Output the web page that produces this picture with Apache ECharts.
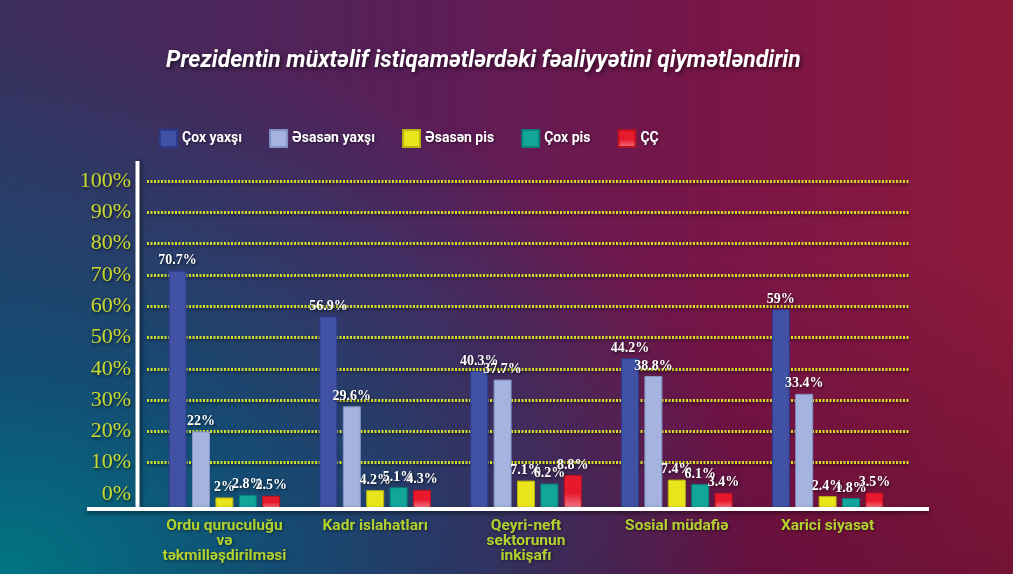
<!DOCTYPE html>
<html>
<head>
<meta charset="utf-8">
<script src="https://cdn.jsdelivr.net/npm/echarts@6/dist/echarts.min.js"></script>
<style>
  html, body { margin: 0; padding: 0; }
  #chart {
    width: 1013px;
    height: 574px;
    background:
      radial-gradient(ellipse 75% 95% at 0% 100%, rgba(0,118,132,1) 0%, rgba(12,82,120,0.85) 38%, rgba(25,55,105,0) 100%),
      linear-gradient(180deg, rgba(0,0,0,0) 45%, rgba(45,0,40,0.28) 100%),
      linear-gradient(90deg, #3b2e5c 0%, #5b1d58 42%, #7a1547 72%, #8e1a3a 100%);
  }
</style>
</head>
<body>
<div id="chart"></div>
<script>
  // kateqoriyalar
  var categories = ['Ordu quruculuğu\nvə\ntəkmilləşdirilməsi', 'Kadr islahatları', 'Qeyri-neft\nsektorunun\ninkişafı', 'Sosial müdafiə', 'Xarici siyasət'];
  var seriesNames = ['Çox yaxşı', 'Əsasən yaxşı', 'Əsasən pis', 'Çox pis', 'ÇÇ'];
  var coxYaxsi = [70.7, 56.9, 40.3, 44.2, 59];
  var esasenYaxsi = [22, 29.6, 37.7, 38.8, 33.4];
  var esasenPis = [2, 4.2, 7.1, 7.4, 2.4];
  var coxPis = [2.8, 5.1, 6.2, 6.1, 1.8];
  var cc = [2.5, 4.3, 8.8, 3.4, 3.5];

  var chart = echarts.init(document.getElementById('chart'));

  var labelStyle = {
    show: true,
    position: 'top',
    distance: 3,
    formatter: '{c}%',
    color: '#fff',
    fontFamily: 'Liberation Serif',
    fontWeight: 'bold',
    fontSize: 14,
    textShadowColor: 'rgba(0,0,0,0.7)',
    textShadowBlur: 3,
    textShadowOffsetX: 1,
    textShadowOffsetY: 1
  };

  function makeBar (name, data, color, border) {
    return {
      name: name,
      type: 'bar',
      xAxisIndex: 0,
      yAxisIndex: 0,
      barWidth: 18,
      barGap: '30%',
      data: data,
      z: 3,
      itemStyle: {
        color: color,
        borderColor: border,
        borderWidth: 1
      },
      label: labelStyle
    }
  }

  var redFill = new echarts.graphic.LinearGradient(0, 0, 0, 1, [
    {offset: 0, color: '#e8192c'},
    {offset: 0.55, color: '#e8192c'},
    {offset: 1, color: '#f27a8a'}
  ]);

  chart.setOption({
    title: {
      text: 'Prezidentin müxtəlif istiqamətlərdəki fəaliyyətini qiymətləndirin',
      left: 161,
      top: 45,
      textStyle: {
        color: '#fff',
        fontFamily: 'Roboto',
        fontStyle: 'italic',
        fontWeight: 'bold',
        fontSize: 23,
        textShadowColor: 'rgba(0,0,0,0.6)',
        textShadowBlur: 4,
        textShadowOffsetX: 2,
        textShadowOffsetY: 2
      }
    },
    legend: {
      left: 154,
      top: 124,
      icon: 'rect',
      itemWidth: 17,
      itemHeight: 17,
      itemGap: 27,
      data: seriesNames,
      textStyle: {
        color: '#fff',
        fontFamily: 'Roboto',
        fontWeight: 'bold',
        fontSize: 14,
        textShadowColor: 'rgba(0,0,0,0.5)',
        textShadowBlur: 3,
        textShadowOffsetX: 1,
        textShadowOffsetY: 1
      }
    },
    grid: [
      {left: 149, right: 110, top: 174, bottom: 66},   // bars
      {left: 147, right: 104, top: 181, bottom: 80}    // scale + dotted lines
    ],
    xAxis: [
      {
        type: 'category',
        gridIndex: 0,
        data: categories,
        axisLine: {show: false},
        axisTick: {show: false},
        axisLabel: {
          margin: 11,
          color: '#b2d12e',
          fontFamily: 'Roboto',
          fontWeight: 'bold',
          fontSize: 15.5,
          lineHeight: 15,
          interval: 0,
          textShadowColor: 'rgba(0,0,0,0.5)',
          textShadowBlur: 3,
          textShadowOffsetX: 1,
          textShadowOffsetY: 1
        }
      },
      {type: 'value', gridIndex: 1, show: false}
    ],
    yAxis: [
      {type: 'value', gridIndex: 0, min: -1.2, max: 100, startValue: -1.2, show: false, splitLine: {show: false}},
      {
        type: 'value',
        gridIndex: 1,
        min: 0,
        max: 100,
        interval: 10,
        axisLine: {show: false},
        axisTick: {show: false},
        axisLabel: {
          margin: 16,
          formatter: '{value}%',
          color: '#cbd92c',
          fontFamily: 'Liberation Serif',
          fontSize: 22,
          padding: [0, 0, 9, 0],
          textShadowColor: 'rgba(0,0,0,0.55)',
          textShadowBlur: 3,
          textShadowOffsetX: 1,
          textShadowOffsetY: 2
        },
        splitLine: {
          show: true,
          showMinLine: false,
          lineStyle: {
            color: '#d2de2a',
            width: 3,
            type: [2, 1.5],
            shadowColor: 'rgba(0,0,0,0.45)',
            shadowBlur: 3,
            shadowOffsetY: 2
          }
        }
      }
    ],
    graphic: [
      {
        type: 'line',
        z: 10,
        shape: {x1: 137.5, y1: 161, x2: 137.5, y2: 508},
        style: {stroke: '#fff', lineWidth: 4, shadowColor: 'rgba(0,0,0,0.5)', shadowBlur: 4, shadowOffsetX: 2}
      },
      {
        type: 'line',
        z: 10,
        shape: {x1: 87, y1: 509, x2: 929, y2: 509},
        style: {stroke: '#fff', lineWidth: 4, shadowColor: 'rgba(0,0,0,0.5)', shadowBlur: 4, shadowOffsetY: 2}
      }
    ],
    series: [
      makeBar(seriesNames[0], coxYaxsi, '#4152a4', '#2c3a8c'),
      makeBar(seriesNames[1], esasenYaxsi, '#a4b4de', '#8393c6'),
      makeBar(seriesNames[2], esasenPis, '#e9e51a', '#b8b410'),
      makeBar(seriesNames[3], coxPis, '#12a69b', '#0b7f77'),
      makeBar(seriesNames[4], cc, redFill, '#b81222')
    ]
  });
</script>
</body>
</html>
